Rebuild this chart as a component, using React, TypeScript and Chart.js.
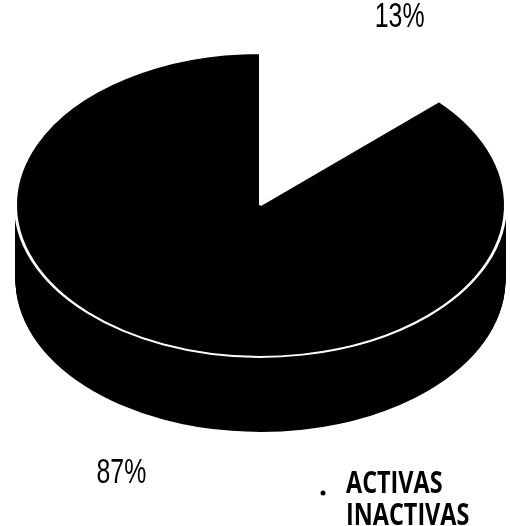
import React, { useEffect, useRef } from 'react';
import { Chart, registerables } from 'chart.js';

Chart.register(...registerables);

const CATEGORIES = ['ACTIVAS', 'INACTIVAS'];
const VALUES = [13, 87];
const COLORS = ['#ffffff', '#000000'];

const TILT = 0.62;
const DEPTH = 75;
const TOP_CY = 205;
const LABEL_FACTOR_X = 1.43;
const LABEL_FACTOR_Y = 1.37;

const pie3d = {
  id: 'pie3d',
  beforeDatasetsDraw(chart: any) {
    const meta = chart.getDatasetMeta(0);
    const arcs = meta.data;
    if (!arcs.length) return;
    const cx = arcs[0].x;
    const cy = arcs[0].y;
    const ctx = chart.ctx;
    for (let d = DEPTH; d >= 1; d--) {
      ctx.save();
      ctx.translate(cx, TOP_CY + d);
      ctx.scale(1, TILT);
      ctx.translate(-cx, -cy);
      arcs.forEach((arc: any) => {
        const saved = arc.options;
        arc.options = Object.assign({}, saved, { borderWidth: 0 });
        arc.draw(ctx);
        arc.options = saved;
      });
      ctx.restore();
    }
    ctx.save();
    ctx.translate(cx, TOP_CY);
    ctx.scale(1, TILT);
    ctx.translate(-cx, -cy);
  },
  afterDatasetsDraw(chart: any) {
    chart.ctx.restore();
  },
  afterDraw(chart: any) {
    const ctx = chart.ctx;
    const meta = chart.getDatasetMeta(0);
    const data = chart.data.datasets[0].data as number[];
    const total = data.reduce((a, b) => a + b, 0);
    ctx.save();
    ctx.fillStyle = '#000';
    ctx.font = "35px 'Liberation Sans', Arial, sans-serif";
    ctx.textAlign = 'center';
    ctx.textBaseline = 'alphabetic';
    meta.data.forEach((arc: any, i: number) => {
      const mid = (arc.startAngle + arc.endAngle) / 2;
      const px = arc.x + Math.cos(mid) * arc.outerRadius * LABEL_FACTOR_X;
      const s = Math.sin(mid);
      const py = TOP_CY + s * arc.outerRadius * LABEL_FACTOR_Y * TILT + (s > 0 ? DEPTH : 0);
      const txt = Math.round((data[i] / total) * 100) + '%';
      ctx.save();
      ctx.translate(px, py + 12.5);
      ctx.scale(0.71, 1);
      ctx.fillText(txt, 0, 0);
      ctx.restore();
    });
    // legend
    const labels = chart.data.labels as string[];
    ctx.font = "bold 30px 'Open Sans', 'Noto Sans', sans-serif";
    ctx.textAlign = 'left';
    labels.forEach((lab, i) => {
      ctx.save();
      ctx.translate(346, 493 + i * 32);
      ctx.scale(0.78, 1);
      ctx.fillText(lab, 0, 0);
      ctx.restore();
    });
    ctx.beginPath();
    ctx.arc(323, 493, 2.5, 0, Math.PI * 2);
    ctx.fill();
    ctx.restore();
  },
};

export default function App() {
  const ref = useRef<HTMLCanvasElement | null>(null);
  useEffect(() => {
    document.body.style.margin = '0';
    const canvas = ref.current;
    if (!canvas) return;
    const chart = new Chart(canvas, {
      type: 'pie',
      data: {
        labels: CATEGORIES,
        datasets: [
          {
            data: VALUES,
            backgroundColor: COLORS,
            borderColor: '#ffffff',
            borderWidth: 3,
          },
        ],
      },
      options: {
        responsive: false,
        animation: false,
        devicePixelRatio: 1,
        events: [],
        layout: { padding: { left: 14, right: 3, top: 0, bottom: 0 } },
        plugins: {
          legend: { display: false },
          tooltip: { enabled: false },
        },
      },
      plugins: [pie3d],
    } as any);
    return () => chart.destroy();
  }, []);
  return (
    <div style={{ width: 510, height: 526, background: '#fff' }}>
      <canvas ref={ref} width={510} height={526} style={{ display: 'block' }} />
    </div>
  );
}
